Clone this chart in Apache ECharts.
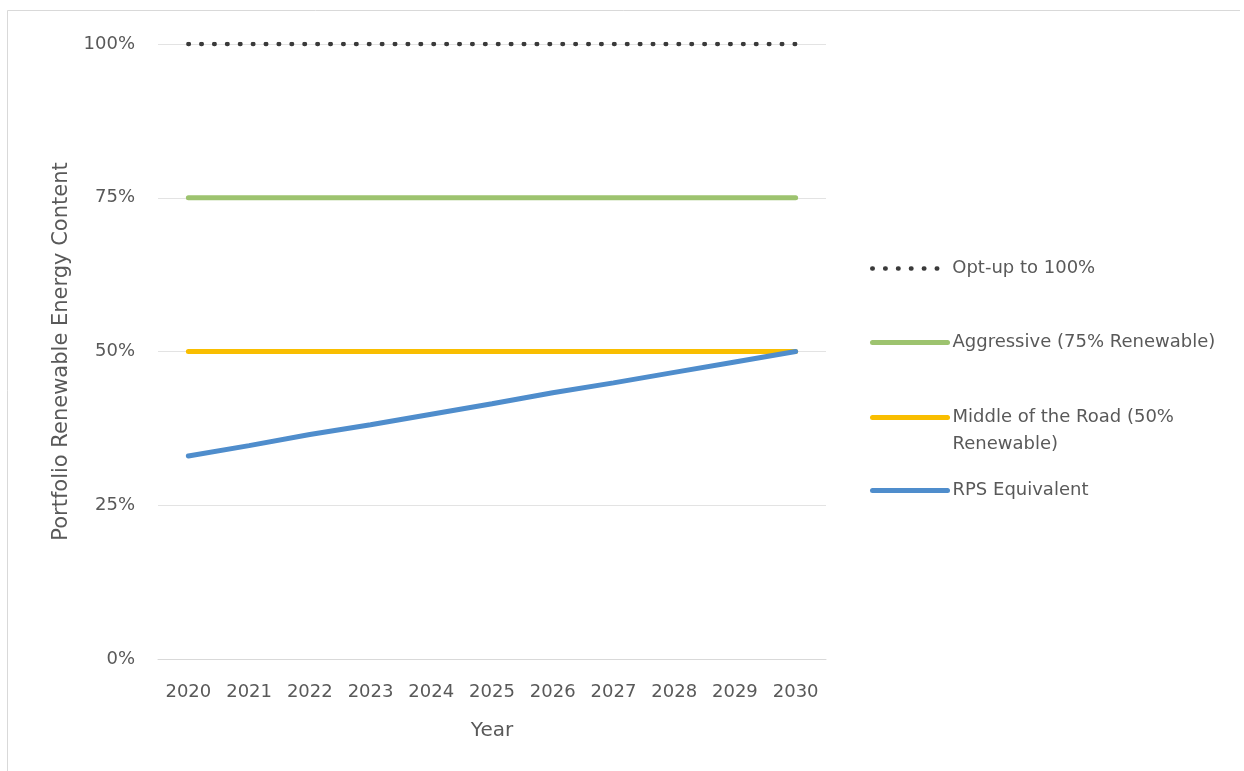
<!DOCTYPE html>
<html>
<head>
<meta charset="utf-8">
<script src="https://cdn.jsdelivr.net/npm/echarts@6/dist/echarts.min.js"></script>
<style>
html,body{margin:0;padding:0;background:#fff;}
#chart{width:1244px;height:771px;}
</style>
</head>
<body>
<div id="chart"></div>
<script>
const years = ['2020','2021','2022','2023','2024','2025','2026','2027','2028','2029','2030'];
const optUp = [100,100,100,100,100,100,100,100,100,100,100];
const aggressive = [75,75,75,75,75,75,75,75,75,75,75];
const middleRoad = [50,50,50,50,50,50,50,50,50,50,50];
const rps = [33,34.7,36.5,38.1,39.8,41.5,43.3,44.9,46.6,48.3,50];
const yTicks = [0,25,50,75,100];

const FONT = 'DejaVu Sans';
const TXT = '#595959';
const names = ['Opt-up to 100%','Aggressive (75% Renewable)','Middle of the Road (50% Renewable)','RPS Equivalent'];
const colors = ['#3a3a3a','#9DC36F','#F9BE00','#4F8DCC'];
const legendWidths = [4.5,5,5,5];

function legendFor(i, top, extra) {
  return Object.assign({
    show: true,
    orient: 'vertical',
    left: 870,
    top: top,
    padding: 0,
    itemWidth: 75,
    itemHeight: 14,
    itemGap: 5,
    data: [names[i]],
    selectedMode: false,
    itemStyle: {opacity: 0},
    lineStyle: {width: legendWidths[i]},
    textStyle: {fontFamily: FONT, fontSize: 18, color: TXT, lineHeight: 27}
  }, extra || {});
}

const chart = echarts.init(document.getElementById('chart'));
chart.setOption({
  backgroundColor: '#fff',
  animation: false,
  graphic: [
    {type:'line', shape:{x1:7.5,y1:10.5,x2:1240,y2:10.5}, style:{stroke:'#d9d9d9',lineWidth:1}},
    {type:'line', shape:{x1:7.5,y1:10.5,x2:7.5,y2:771}, style:{stroke:'#d9d9d9',lineWidth:1}}
  ],
  grid: {left:158, right:418, top:44, bottom:112, containLabel:false},
  xAxis: {
    type:'category', data: years, boundaryGap: true,
    name:'Year', nameLocation:'middle', nameGap:62,
    nameTextStyle:{fontFamily:FONT, fontSize:20, color:TXT},
    axisLine:{show:true, lineStyle:{color:'#d9d9d9', width:1}},
    axisTick:{show:false},
    axisLabel:{fontFamily:FONT, fontSize:18, color:TXT, margin:24, interval:0},
    splitLine:{show:false}
  },
  yAxis: {
    type:'value', min:yTicks[0], max:yTicks[yTicks.length-1], interval:25,
    name:'Portfolio Renewable Energy Content', nameLocation:'middle', nameGap:86,
    nameTextStyle:{fontFamily:FONT, fontSize:21, color:TXT},
    axisLine:{show:false}, axisTick:{show:false},
    axisLabel:{fontFamily:FONT, fontSize:18, color:TXT, margin:23, formatter: v => v + '%'},
    splitLine:{show:true, lineStyle:{color:'#e3e3e3', width:1}}
  },
  legend: [
    legendFor(0, 255),
    legendFor(1, 329),
    legendFor(2, 377, {formatter: () => '\nMiddle of the Road (50%\nRenewable)'}),
    legendFor(3, 477)
  ],
  series: [
    {name:names[0], type:'line', data:optUp, symbol:'none', z:5,
     lineStyle:{color:colors[0], width:4.5, type:[0.5,12.4], cap:'round'}, itemStyle:{color:colors[0]}},
    {name:names[1], type:'line', data:aggressive, symbol:'none',
     lineStyle:{color:colors[1], width:5, cap:'round'}, itemStyle:{color:colors[1]}},
    {name:names[2], type:'line', data:middleRoad, symbol:'none',
     lineStyle:{color:colors[2], width:5, cap:'round'}, itemStyle:{color:colors[2]}},
    {name:names[3], type:'line', data:rps, symbol:'none', z:4,
     lineStyle:{color:colors[3], width:5, cap:'round'}, itemStyle:{color:colors[3]}}
  ]
});
</script>
</body>
</html>
